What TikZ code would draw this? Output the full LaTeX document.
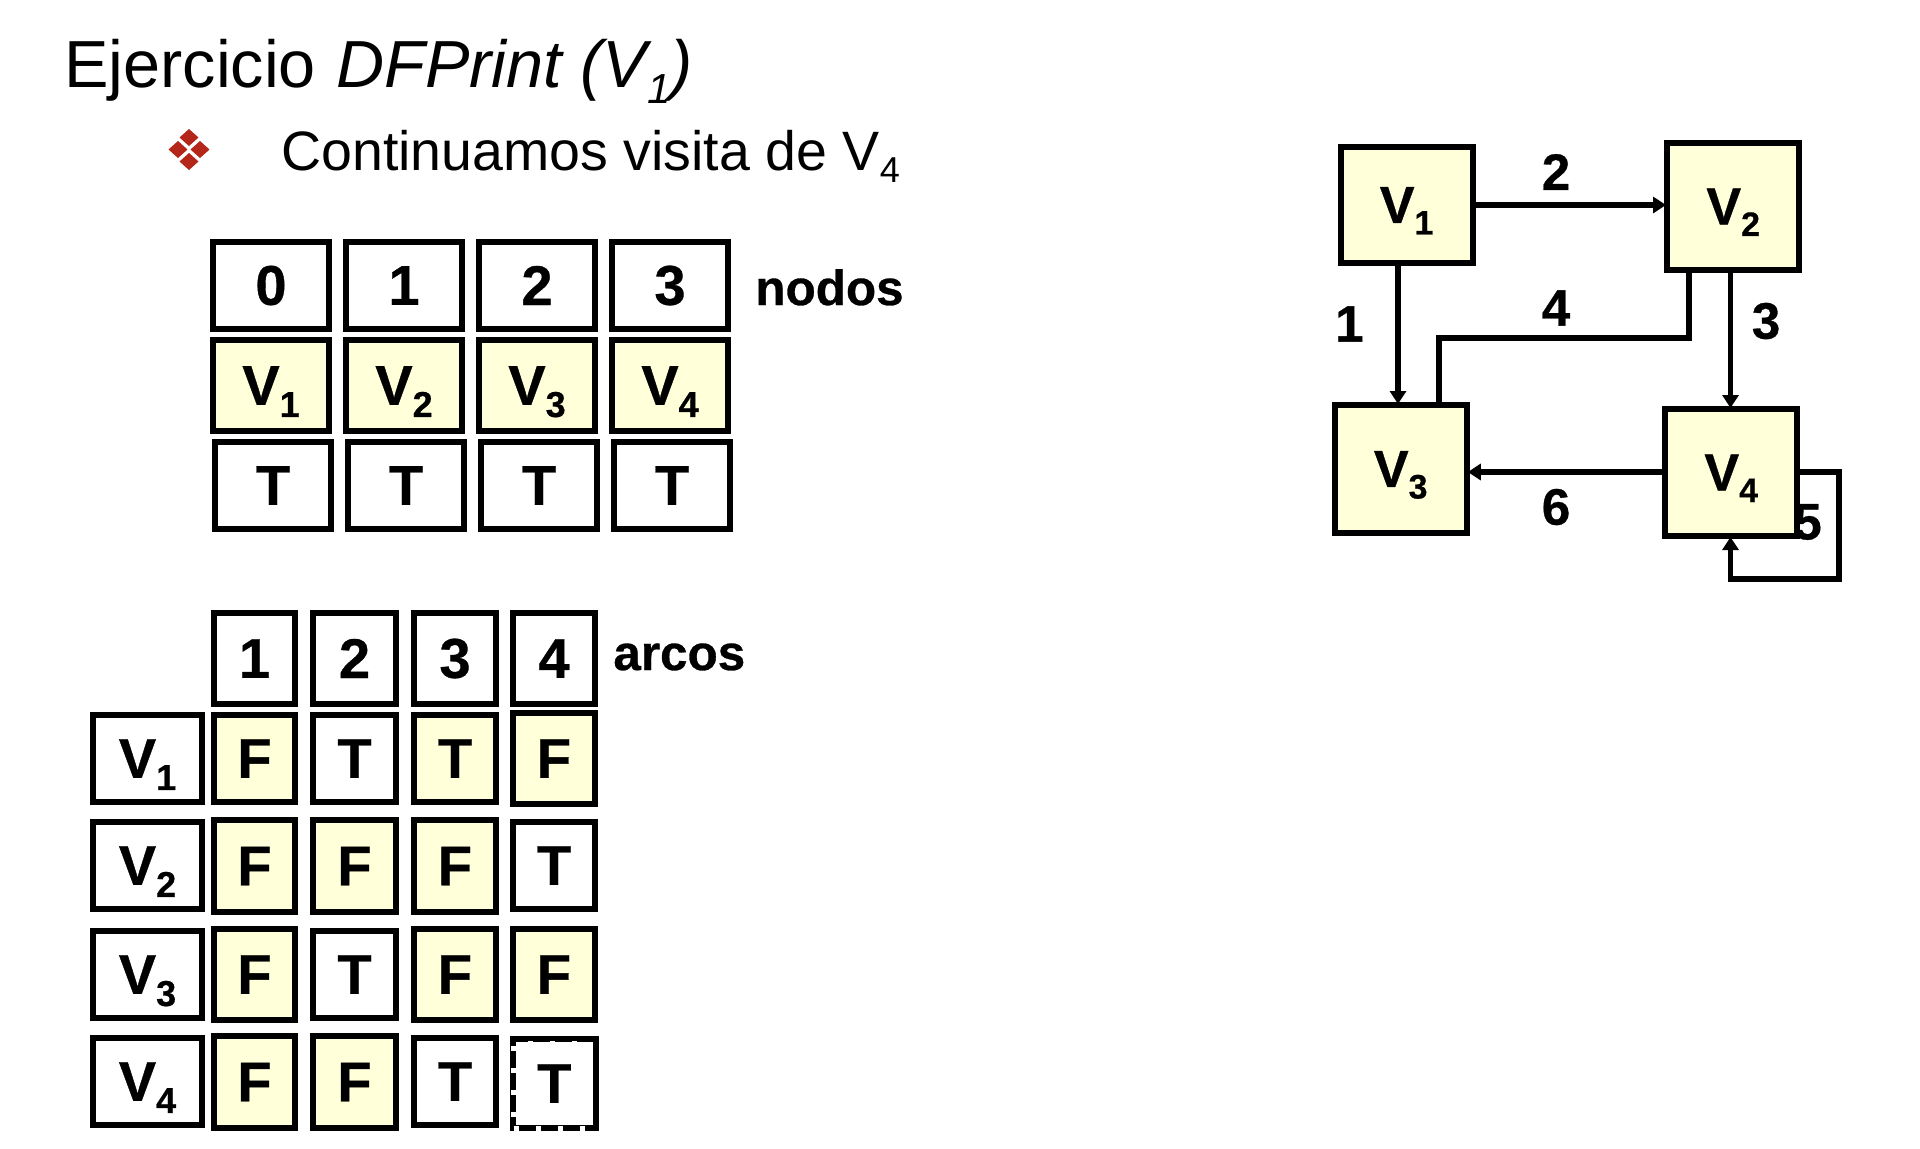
\documentclass[tikz,border=0pt]{standalone}
\usepackage{fontspec}
\setmainfont{Liberation Sans}[BoldFeatures={FakeBold=0.6}]
\usetikzlibrary{arrows.meta}
\definecolor{cellyellow}{HTML}{FFFFD9}
\definecolor{bulletred}{HTML}{B5261A}
\newcommand{\fs}[1]{\fontsize{#1}{#1}\selectfont}
% V with subscript: table size and graph size
\newcommand{\Vsub}[1]{V\smash{\raisebox{-6.1pt}{\fontsize{18}{18}\selectfont #1}}}
\newcommand{\Vgr}[1]{V\smash{\raisebox{-5.8pt}{\fontsize{17}{17}\selectfont #1}}}
% \cell{name}{x0}{y0}{x1}{y1}{style}{text}  outer extents in px
\newcommand{\cell}[7]{%
  \pgfmathsetmacro{\cx}{(#2+#4)/2}\pgfmathsetmacro{\cy}{(#3+#5)/2}%
  \pgfmathsetmacro{\cw}{(#4-#2-6)*0.5}\pgfmathsetmacro{\ch}{(#5-#3-6)*0.5}%
  \node[#6,minimum width=\cw pt,minimum height=\ch pt] (#1) at (\cx,\cy) {#7};}
\tikzset{
  blank/.style={draw=black,line width=3pt,fill=white,inner sep=0pt,font=\bfseries\fs{28},text=black},
  filled/.style={blank,fill=cellyellow},
  dashover/.style={draw=white,line width=2.5pt,dash pattern=on 2.5pt off 8.5pt,inner sep=0pt},
  gnode/.style={blank,fill=cellyellow,font=\bfseries\fs{26}},
  edge/.style={draw=black,line width=2.7pt,-{Triangle[length=6.5pt,width=8pt]},shorten >=-1pt},
  plainedge/.style={draw=black,line width=2.7pt},
  elabel/.style={font=\bfseries\fs{25.6},inner sep=0pt},
  bul/.style={fill=bulletred,draw=none}
}
\begin{document}
\begin{tikzpicture}[x=0.5pt,y=-0.5pt]
\useasboundingbox (0,0) rectangle (1920,1148);
\fill[white] (0,0) rectangle (1920,1148);
% title
\node[anchor=base west,inner sep=0pt,font=\fs{33.3}] (title) at (64,87) {Ejercicio\hspace{1pt} \textit{DFPrint (V\raisebox{-8pt}{\fontsize{21}{21}\selectfont 1})}};
% bullet
\fill[bul] (189,129) -- (198.5,137.5) -- (189,146) -- (179.5,137.5) -- cycle;
\fill[bul] (178,141) -- (187.5,149.5) -- (178,158) -- (168.5,149.5) -- cycle;
\fill[bul] (200,141) -- (209.5,149.5) -- (200,158) -- (190.5,149.5) -- cycle;
\fill[bul] (189,153) -- (198.5,161.5) -- (189,170) -- (179.5,161.5) -- cycle;
\node[anchor=base west,inner sep=0pt,font=\fs{27.75}] (sub) at (281,170) {Continuamos visita de V\raisebox{-6pt}{\fontsize{18}{18}\selectfont 4}};
% nodos table
\cell{a0}{210}{239}{332}{332}{blank}{0}
\cell{a1}{343}{239}{465}{332}{blank}{1}
\cell{a2}{476}{239}{598}{332}{blank}{2}
\cell{a3}{609}{239}{731}{332}{blank}{3}
\cell{b0}{210}{337}{332}{434}{filled}{\Vsub{1}}
\cell{b1}{343}{337}{465}{434}{filled}{\Vsub{2}}
\cell{b2}{476}{337}{598}{434}{filled}{\Vsub{3}}
\cell{b3}{609}{337}{731}{434}{filled}{\Vsub{4}}
\cell{c0}{212}{439}{334}{532}{blank}{T}
\cell{c1}{345}{439}{467}{532}{blank}{T}
\cell{c2}{478}{439}{600}{532}{blank}{T}
\cell{c3}{611}{439}{733}{532}{blank}{T}
\node[anchor=base west,inner sep=0pt,font=\bfseries\fs{24.7}] (nodos) at (755,305) {nodos};
% arcos table
\cell{h1}{211}{610}{298}{707}{blank}{1}
\cell{h2}{310}{610}{399}{707}{blank}{2}
\cell{h3}{411}{610}{499}{707}{blank}{3}
\cell{h4}{510}{610}{598}{707}{blank}{4}
\node[anchor=base west,inner sep=0pt,font=\bfseries\fs{24.7}] (arcos) at (613,670) {arcos};
\cell{l1}{90}{712}{205}{805}{blank}{\Vsub{1}}
\cell{m11}{211}{712}{298}{805}{filled}{F}
\cell{m12}{310}{712}{399}{805}{blank}{T}
\cell{m13}{411}{712}{499}{805}{filled}{T}
\cell{m14}{510}{710}{598}{807}{filled}{F}
\cell{l2}{90}{819}{205}{912}{blank}{\Vsub{2}}
\cell{m21}{211}{817}{298}{915}{filled}{F}
\cell{m22}{310}{817}{399}{915}{filled}{F}
\cell{m23}{411}{817}{499}{915}{filled}{F}
\cell{m24}{510}{819}{598}{912}{blank}{T}
\cell{l3}{90}{928}{205}{1021}{blank}{\Vsub{3}}
\cell{m31}{211}{926}{298}{1023}{filled}{F}
\cell{m32}{310}{928}{399}{1021}{blank}{T}
\cell{m33}{411}{926}{499}{1023}{filled}{F}
\cell{m34}{510}{926}{598}{1023}{filled}{F}
\cell{l4}{90}{1035}{205}{1128}{blank}{\Vsub{4}}
\cell{m41}{211}{1033}{298}{1131}{filled}{F}
\cell{m42}{310}{1033}{399}{1131}{filled}{F}
\cell{m43}{411}{1035}{499}{1128}{blank}{T}
\cell{m44}{510}{1036}{598.5}{1131}{blank}{T}
\node[dashover,minimum width=38.5pt,minimum height=42.5pt] (m44d) at (552,1085.5) {};
% graph label under V4
\node[elabel] (e5) at (1807.5,522) {5};
% graph nodes
\cell{v1}{1337.5}{144}{1475.7}{266}{gnode}{\Vgr{1}}
\cell{v2}{1664}{140}{1802.4}{273}{gnode}{\Vgr{2}}
\cell{v3}{1331.6}{402}{1469.8}{536}{gnode}{\Vgr{3}}
\cell{v4}{1662}{406}{1800.4}{539}{gnode}{\Vgr{4}}
% connectors
\coordinate (p12a) at (v1.east |- 0,205);
\coordinate (p12b) at (v2.west |- 0,205);
\draw[edge] (p12a) -- (p12b);
\coordinate (p13a) at (1398,0 |- v1.south);
\coordinate (p13b) at (1398,0 |- v3.north);
\draw[edge] (p13a) -- (p13b);
\coordinate (p24a) at (1730.5,0 |- v2.south);
\coordinate (p24b) at (1730.5,0 |- v4.north);
\draw[edge] (p24a) -- (p24b);
\coordinate (p23a) at (1689,0 |- v2.south);
\coordinate (p23b) at (1439,0 |- v3.north);
\draw[plainedge] (p23a) |- (p23b |- 0,338) -- (p23b);
\coordinate (p43a) at (v4.west |- 0,472);
\coordinate (p43b) at (v3.east |- 0,472);
\draw[edge] (p43a) -- (p43b);
\coordinate (p44a) at (v4.east |- 0,472);
\coordinate (p44b) at (1730.5,0 |- v4.south);
\draw[edge] (p44a) -- (1839,472) -- (1839,579) -- (1730.5,579) -- (p44b);
\node[elabel] (e2) at (1556,172) {2};
\node[elabel] (e1) at (1349.4,324) {1};
\node[elabel] (e4) at (1556,308) {4};
\node[elabel] (e3) at (1766,321) {3};
\node[elabel] (e6) at (1556,507) {6};
\end{tikzpicture}
\end{document}
